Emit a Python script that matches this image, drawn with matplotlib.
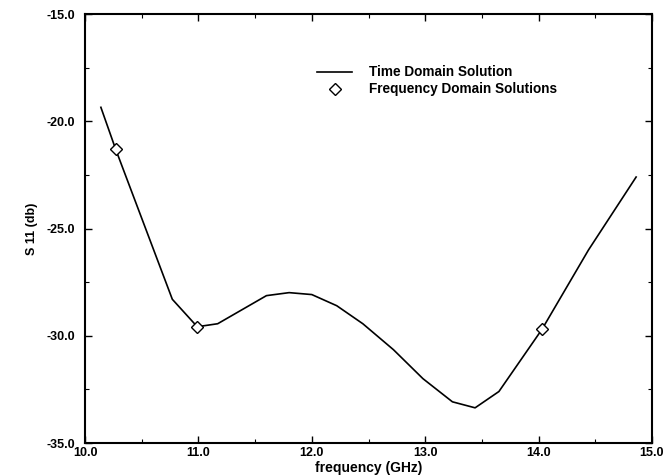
import matplotlib
matplotlib.use("Agg")
import matplotlib.pyplot as plt
from matplotlib.ticker import MultipleLocator, FormatStrFormatter

plt.rcParams['font.family'] = ['Liberation Sans', 'DejaVu Sans']

# Time-domain solution curve
time_freq = [10.14, 10.27, 10.77, 10.99, 11.17, 11.60, 11.80, 12.00, 12.22,
             12.45, 12.72, 12.98, 13.24, 13.44, 13.65, 14.03, 14.44, 14.86]
time_s11 = [-19.35, -21.3, -28.3, -29.58, -29.44, -28.13, -27.99, -28.08, -28.6,
            -29.44, -30.65, -32.0, -33.08, -33.36, -32.6, -29.7, -26.0, -22.6]

# Frequency-domain solutions
freq_freq = [10.27, 10.99, 14.03]
freq_s11 = [-21.3, -29.58, -29.67]

fig = plt.figure(figsize=(6.7, 4.76), dpi=100)
ax = fig.add_axes([85/670, 1-443/476, (652-85)/670, (443-14)/476])

ax.plot(time_freq, time_s11, color='black', linewidth=1.2, label='Time Domain Solution')
ax.plot(freq_freq, freq_s11, linestyle='none', marker='D', markersize=6,
        markerfacecolor='white', markeredgecolor='black', markeredgewidth=1.0,
        label='Frequency Domain Solutions')

ax.set_xlim(10.0, 15.0)
ax.set_ylim(-35.0, -15.0)
ax.xaxis.set_major_locator(MultipleLocator(1.0))
ax.xaxis.set_minor_locator(MultipleLocator(0.5))
ax.yaxis.set_major_locator(MultipleLocator(5.0))
ax.yaxis.set_minor_locator(MultipleLocator(2.5))
ax.xaxis.set_major_formatter(FormatStrFormatter('%.1f'))
ax.yaxis.set_major_formatter(FormatStrFormatter('%.1f'))

ax.tick_params(which='both', direction='in', top=True, right=True)
ax.tick_params(which='major', length=5, width=1.0, labelsize=9, pad=7)
ax.tick_params(which='minor', length=3, width=0.8)
ax.tick_params(axis='x', which='major', pad=3)
for lab in ax.get_xticklabels() + ax.get_yticklabels():
    lab.set_fontweight('bold')
for s in ax.spines.values():
    s.set_linewidth(1.5)

ax.set_xlabel('frequency (GHz)', fontsize=10, fontweight='bold', labelpad=1)
ax.set_ylabel('S 11 (db)', fontsize=9, fontweight='bold', labelpad=6)

leg = ax.legend(loc='upper left', bbox_to_anchor=(0.409, 0.880), frameon=False,
                fontsize=9.8, borderpad=0, handlelength=2.6, handletextpad=1.2,
                labelspacing=0.22, borderaxespad=0)
for t in leg.get_texts():
    t.set_fontweight('bold')

fig.savefig('out.png', dpi=100)
